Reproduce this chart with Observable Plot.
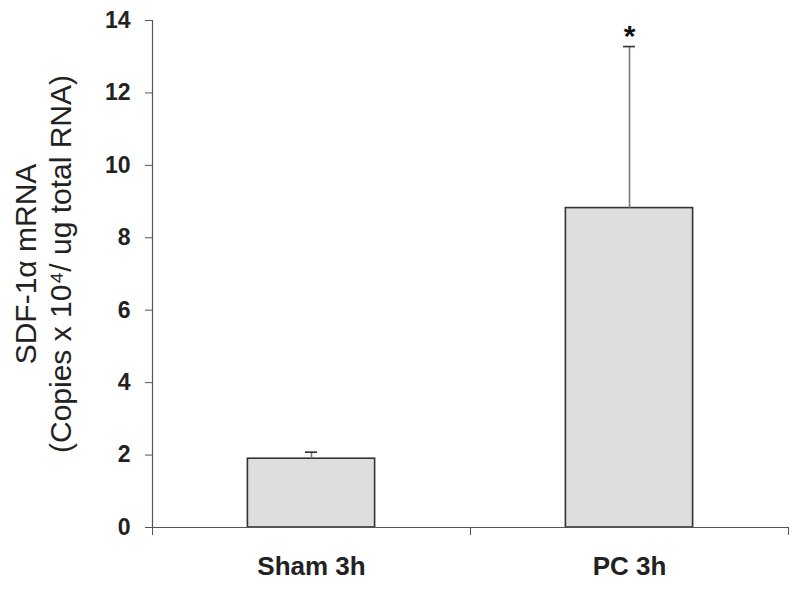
<!DOCTYPE html>
<html>
<head>
<meta charset="utf-8">
<script src="https://cdn.jsdelivr.net/npm/d3@7"></script>
<script src="https://cdn.jsdelivr.net/npm/@observablehq/plot@0.6"></script>
<style>
  html, body { margin: 0; padding: 0; background: #fff; }
</style>
</head>
<body>
<div id="chart"></div>
<script>
const categories = ["Sham 3h", "PC 3h"];
const means = [1.9, 8.82];
const sems = [0.18, 4.46];
const significance = ["", "*"];
const yTicks = [0, 2, 4, 6, 8, 10, 12, 14];
const yTitle = "SDF-1\u03b1 mRNA\n(Copies x 10\u2074/ ug total RNA)";

const data = categories.map((c, i) => ({ c, i, mean: means[i], sem: sems[i], sig: significance[i] }));
const font = "'Liberation Sans', Arial, Helvetica, sans-serif";

const chart = Plot.plot({
  width: 800,
  height: 589,
  marginLeft: 152,
  marginRight: 12,
  marginTop: 20,
  marginBottom: 62,
  style: { fontFamily: font, background: "#fff", color: "#222" },
  x: { domain: [0, categories.length], axis: null },
  y: { domain: [0, 14], axis: null },
  marks: [
    Plot.rectY(data, {
      x1: d => d.i + 0.3, x2: d => d.i + 0.7, y1: 0, y2: "mean",
      fill: "#dedede", stroke: "#333", strokeWidth: 1.6
    }),
    Plot.ruleX(data, {
      x: d => d.i + 0.5, y1: "mean", y2: d => d.mean + d.sem,
      stroke: "#777", strokeWidth: 1.6
    }),
    Plot.ruleY(data, {
      y: d => d.mean + d.sem, x1: d => d.i + 0.481, x2: d => d.i + 0.519,
      stroke: "#333", strokeWidth: 1.6
    }),
    Plot.text(data, {
      x: d => d.i + 0.5, y: d => d.mean + d.sem, text: "sig",
      lineAnchor: "bottom", dy: -1, fontSize: 30, fontWeight: "bold", fill: "#111"
    }),
    Plot.ruleX([0], { stroke: "#555", strokeWidth: 1.2 }),
    Plot.ruleY([0], { stroke: "#555", strokeWidth: 1.2 }),
    Plot.axisY({
      ticks: yTicks, tickSize: 7, tickPadding: 15, stroke: "#555",
      fontSize: 23, fontWeight: "bold", fill: "#222", label: null
    }),
    Plot.axisX({
      ticks: d3.range(categories.length + 1), tickSize: 8, stroke: "#555",
      tickFormat: () => "", label: null
    }),
    Plot.axisX({
      ticks: categories.map((c, i) => i + 0.5), tickSize: 0, tickPadding: 29,
      tickFormat: t => categories[Math.floor(t)], fontSize: 26, fontWeight: "bold",
      fill: "#222", label: null
    }),
    Plot.text([yTitle], {
      frameAnchor: "left", dx: -110, dy: -10, rotate: -90,
      text: d => d, textAnchor: "middle", lineAnchor: "middle", lineHeight: 1.17,
      fontSize: 30, fill: "#222"
    })
  ]
});

document.getElementById("chart").appendChild(chart);
</script>
</body>
</html>
